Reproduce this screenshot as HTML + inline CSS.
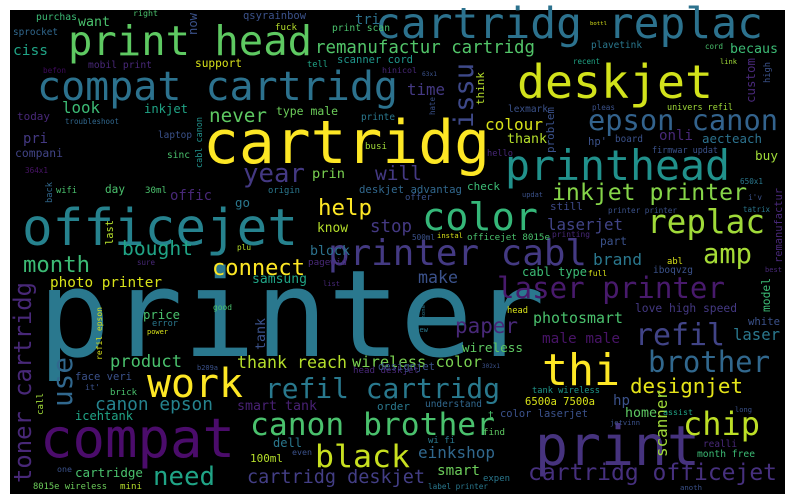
<!DOCTYPE html>
<html><head><meta charset="utf-8"><style>
html,body{margin:0;padding:0;background:#fff;width:794px;height:504px;overflow:hidden}
svg{display:block}
text{font-family:"DejaVu Sans Mono","Liberation Mono",monospace}
</style></head><body>
<svg id="cloud" width="794" height="504" viewBox="0 0 794 504">
<rect x="10" y="10" width="775" height="484" fill="#000"/>
<g id="words"></g>
</svg>
<script>
// word, x, baseline, width (extent), color, rotated
const words = [
["printer",38,356,507,"#2a788e",0],
["cartridg",203,163,287,"#fde725",0],
["officejet",22,245,276,"#26828e",0],
["compat cartridg",37,100,361,"#2c728e",0],
["print head",68,55,244,"#5ec962",0],
["cartridg replac",375,38,388,"#2c728e",0],
["deskjet",517,98,196,"#d2e21b",0],
["printhead",505,180,225,"#21918c",0],
["epson canon",588,130,190,"#33638d",0],
["compat",40,457,195,"#4b0c6b",0],
["print",535,465,165,"#46337e",0],
["thi",542,385,78,"#fde725",0],
["work",147,397,96,"#fde725",0],
["color",422,230,116,"#35b779",0],
["replac",647,233,118,"#a0da39",0],
["inkjet printer",552,200,195,"#86d549",0],
["laserjet",547,230,76,"#414487",0],
["printer cabl",328,265,259,"#443a83",0],
["amp",703,263,49,"#a5db36",0],
["laser printer",497,298,228,"#481a6c",0],
["refil",635,345,90,"#414487",0],
["brother",648,372,122,"#31688e",0],
["designjet",630,393,113,"#e5e419",0],
["chip",683,435,77,"#bddf26",0],
["cartridg officejet",528,480,249,"#46307e",0],
["canon brother",250,435,245,"#4ac16d",0],
["black",315,467,95,"#c8e020",0],
["refil cartridg",265,398,235,"#29798e",0],
["need",153,485,62,"#20a486",0],
["use",72,407,50,"#31688e",1],
["toner cartridg",31,483,201,"#482878",1],
["connect",212,275,93,"#fde725",0],
["month",23,272,67,"#3cbb75",0],
["photo printer",50,287,112,"#d8e219",0],
["product",110,367,72,"#4ac16d",0],
["thank reach",237,368,110,"#b5de2b",0],
["canon epson",95,410,118,"#25838e",0],
["smart tank",237,410,80,"#482173",0],
["cartridg deskjet",247,483,178,"#433e85",0],
["einkshop",418,458,77,"#31688e",0],
["smart",437,475,43,"#6ccd5a",0],
["paper",455,333,63,"#482878",0],
["photosmart",533,323,90,"#4ac16d",0],
["male male",542,343,78,"#481467",0],
["brand",593,265,49,"#2a788e",0],
["make",418,283,40,"#3b528b",0],
["cabl type",522,276,65,"#3cbb75",0],
["wireless color",352,367,130,"#7ad151",0],
["wireless",462,352,61,"#5ec962",0],
["hp",613,405,17,"#3b528b",0],
["home",625,417,32,"#5ec962",0],
["scanner",667,457,67,"#a0da39",1],
["laser",733,340,47,"#2a788e",0],
["white",748,325,32,"#3b528b",0],
["love high speed",635,312,102,"#443983",0],
["model",770,312,34,"#3cbb75",1],
["6500a 7500a",525,405,70,"#d8e219",0],
["tank wireless",532,393,68,"#1f968b",0],
["color laserjet",500,417,88,"#3b528b",0],
["month free",697,457,58,"#3cbb75",0],
["understand",425,407,57,"#31688e",0],
["label printer",428,489,60,"#2a788e",0],
["expen",483,481,27,"#2a788e",0],
["find",483,435,22,"#5ec962",0],
["wi fi",428,443,27,"#2a788e",0],
["want",78,26,32,"#4ac16d",0],
["purchas",36,20,41,"#3cbb75",0],
["right",133,16,25,"#4ac16d",0],
["qsyrainbow",243,19,63,"#3b528b",0],
["tri",355,24,25,"#2c728e",0],
["now",197,35,22,"#3b528b",1],
["sprocket",13,35,45,"#31688e",0],
["fuck",275,30,22,"#b5de2b",0],
["print scan",332,31,58,"#4ac16d",0],
["ciss",13,55,35,"#20a486",0],
["remanufactur cartridg",315,53,220,"#52c569",0],
["becaus",730,53,48,"#3cbb75",0],
["support",195,67,47,"#d8e219",0],
["mobil print",88,68,64,"#482878",0],
["befon",43,73,23,"#3e0a5c",0],
["tell",307,67,21,"#20a486",0],
["scanner cord",337,63,76,"#1f968b",0],
["hinicol",382,73,35,"#482878",0],
["look",62,113,38,"#3cbb75",0],
["inkjet",144,113,44,"#20a486",0],
["never",209,122,58,"#5ec962",0],
["type male",276,115,62,"#6ccd5a",0],
["today",17,120,33,"#482878",0],
["troubleshoot",65,124,54,"#31688e",0],
["printe",361,120,34,"#2a788e",0],
["pri",23,143,25,"#443983",0],
["laptop",158,138,34,"#3b528b",0],
["cabl canon",202,168,51,"#21918c",1],
["busi",365,149,22,"#a0da39",0],
["compani",15,157,48,"#414487",0],
["sinc",167,158,23,"#4ac16d",0],
["364x1",25,173,23,"#481467",0],
["year",243,182,62,"#443983",0],
["prin",312,178,33,"#7ad151",0],
["will",375,180,47,"#443983",0],
["day",105,193,20,"#4ac16d",0],
["30ml",145,193,22,"#4ac16d",0],
["offic",170,200,42,"#482878",0],
["wifi",56,193,21,"#4ac16d",0],
["back",52,203,21,"#31688e",1],
["origin",268,193,32,"#2a788e",0],
["deskjet advantag",359,193,103,"#31688e",0],
["check",467,190,33,"#3cbb75",0],
["offer",405,200,27,"#3b528b",0],
["updat",522,197,21,"#3b528b",0],
["go",235,207,15,"#2a788e",0],
["help",318,215,54,"#fde725",0],
["know",317,232,31,"#b5de2b",0],
["stop",370,232,42,"#443983",0],
["last",113,245,25,"#b5de2b",1],
["bought",122,255,71,"#20a486",0],
["block",310,255,40,"#2c728e",0],
["plu",237,250,14,"#b5de2b",0],
["time",407,95,38,"#443983",0],
["issu",473,128,65,"#3e4989",1],
["think",484,105,33,"#b5de2b",1],
["hate",435,115,18,"#3b528b",1],
["63x1",422,76,15,"#3b528b",0],
["colour",485,130,58,"#d8e219",0],
["thank",507,143,40,"#b5de2b",0],
["lexmark",508,112,40,"#3b528b",0],
["problem",554,153,46,"#3b528b",1],
["hello",487,156,26,"#482878",0],
["hp'",588,145,19,"#3b528b",0],
["board",615,142,28,"#3b528b",0],
["onli",659,140,34,"#482878",0],
["aecteach",702,143,60,"#2c728e",0],
["buy",755,160,23,"#a0da39",0],
["firmwar updat",652,153,66,"#3b528b",0],
["pleas",592,110,23,"#3b528b",0],
["univers refil",667,110,66,"#a0da39",0],
["custom",755,103,45,"#482878",1],
["high",770,83,21,"#3b528b",1],
["recent",573,64,27,"#20a486",0],
["link",720,64,17,"#a0da39",0],
["bottl",590,25,17,"#d8e219",0],
["plavetink",591,48,51,"#2a788e",0],
["cord",705,49,18,"#4ac16d",0],
["650x1",740,184,23,"#2a788e",0],
["i'v",748,200,14,"#3b528b",0],
["tatrix",743,212,27,"#2a788e",0],
["remanufactur",782,263,75,"#482878",1],
["printer printer",608,213,69,"#3b528b",0],
["still",550,210,33,"#3e4989",0],
["printing",552,237,38,"#482878",0],
["part",600,245,27,"#3b528b",0],
["500ml",412,240,23,"#3b528b",0],
["instal",437,238,26,"#d8e219",0],
["officejet 8015e",467,240,83,"#4ac16d",0],
["pagewid",308,265,39,"#482878",0],
["samsung",252,283,55,"#20a486",0],
["list",323,286,17,"#482878",0],
["sure",137,265,18,"#482878",0],
["good",213,310,19,"#4ac16d",0],
["price",143,319,37,"#4ac16d",0],
["error",152,326,26,"#2a788e",0],
["power",147,334,21,"#d8e219",0],
["refil epson",102,360,53,"#d8e219",1],
["tank",265,350,32,"#3b528b",1],
["b209a",197,370,21,"#3b528b",0],
["face veri",75,380,57,"#3b528b",0],
["it'",85,390,15,"#3b528b",0],
["brick",110,395,27,"#4ac16d",0],
["call",43,415,22,"#a0da39",1],
["icehtank",75,420,58,"#20a486",0],
["dell",273,447,29,"#2a788e",0],
["even",292,455,20,"#3b528b",0],
["100ml",250,462,33,"#b5de2b",0],
["cartridge",75,477,68,"#4ac16d",0],
["one",57,472,15,"#3b528b",0],
["8015e wireless",33,489,74,"#6ccd5a",0],
["mini",120,489,22,"#b5de2b",0],
["head deskjet",353,373,66,"#482878",0],
["order",377,410,33,"#2a788e",0],
["head",507,313,21,"#d8e219",0],
["new",415,332,13,"#2a788e",0],
["phone",425,322,17,"#2a788e",1],
["designjet",378,370,57,"#3b528b",0],
["302x1",482,368,18,"#3b528b",0],
["t",488,418,6,"#4ac16d",0],
["assist",663,415,30,"#20a486",0],
["long",735,412,17,"#3b528b",0],
["jetvinn",610,425,30,"#3b528b",0],
["realli",703,447,34,"#482878",0],
["anoth",680,490,22,"#3b528b",0],
["abl",667,264,16,"#d8e219",0],
["iboqvzg",653,273,40,"#3b528b",0],
["full",588,276,19,"#d8e219",0],
["best",765,272,17,"#482878",0]
];
const g = document.getElementById('words');
const NS = 'http://www.w3.org/2000/svg';
words.forEach(function(w){
  const t = document.createElementNS(NS,'text');
  const fs = w[3]/(w[0].length*0.602);
  t.setAttribute('font-size', fs.toFixed(2));
  t.setAttribute('fill', w[4]);
  t.setAttribute('textLength', w[3]);
  t.setAttribute('lengthAdjust', 'spacingAndGlyphs');
  if (w[5]) {
    t.setAttribute('transform', 'translate(' + w[1] + ',' + w[2] + ') rotate(-90)');
  } else {
    t.setAttribute('x', w[1]);
    t.setAttribute('y', w[2]);
  }
  t.textContent = w[0];
  
  
  g.appendChild(t);
});
</script>
</body></html>
